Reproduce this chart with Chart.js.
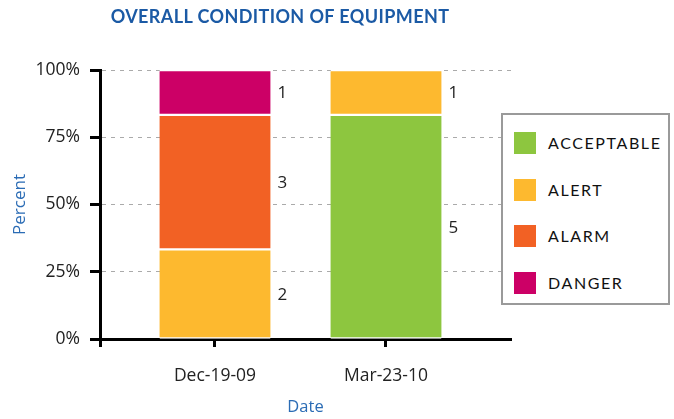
<html>
<head>
<script src="https://cdn.jsdelivr.net/npm/chart.js"></script>
<style>
body { margin:0; background:#fff; }
#wrap { position:relative; width:674px; height:419px; }
#chart-title { position:absolute; left:0; width:560px; top:5px; text-align:center; font-family:Lato, sans-serif; font-weight:700; font-size:18px; letter-spacing:0.4px; color:#1b5aa5; }
#legend { position:absolute; left:501px; top:113px; width:165px; height:188px; border:2px solid #9a9a9a; background:#fff; }
.lg-item { position:absolute; left:11px; height:22px; font-family:Lato, sans-serif; font-size:16px; letter-spacing:1.6px; color:#111; line-height:22px; }
.lg-item span { display:inline-block; width:22px; height:22px; vertical-align:top; margin-right:12px; }
</style>
</head>
<body>
<div id="wrap">
  <canvas id="myChart" width="674" height="419"></canvas>
  <div id="chart-title">OVERALL CONDITION OF EQUIPMENT</div>
  <div id="legend"></div>
</div>

<script>
// survey dates and status categories
const dates = ['Dec-19-09', 'Mar-23-10'];
const statuses = ['ACCEPTABLE', 'ALERT', 'ALARM', 'DANGER'];
const colors = ['#8dc63f', '#fdb92f', '#f26124', '#cc0066'];

// number of machines in each status, per date
const acceptable = [0, 5];
const alert_ = [2, 1];
const alarm = [3, 0];
const danger = [1, 0];
const counts = [acceptable, alert_, alarm, danger];

const yTicks = [0, 25, 50, 75, 100];

const totals = dates.map((d, i) => counts.reduce((s, c) => s + c[i], 0));

const datasets = statuses.map((name, k) => ({
  label: name,
  backgroundColor: colors[k],
  borderColor: '#fff',
  borderWidth: {top: 1.5, bottom: 1.5, left: 0, right: 0},
  borderSkipped: false,
  barThickness: 111,
  counts: counts[k],
  data: dates.map((d, i) => ({x: i + 1, y: counts[k][i] ? counts[k][i] / totals[i] * 100 : null}))
}));

// legend box
let lg = '';
statuses.forEach((name, k) => {
  lg += '<div class="lg-item" style="top:' + (17 + k * 46.7) + 'px"><span style="background:' + colors[k] + '"></span>' + name + '</div>';
});
document.getElementById('legend').innerHTML = lg;

// count labels to the right of each segment
const countLabels = {
  id: 'countLabels',
  afterDatasetsDraw(chart) {
    const ctx = chart.ctx;
    ctx.save();
    ctx.font = '17px "Open Sans"';
    ctx.fillStyle = '#222';
    ctx.textAlign = 'left';
    ctx.textBaseline = 'middle';
    chart.data.datasets.forEach((ds, k) => {
      chart.getDatasetMeta(k).data.forEach((bar, i) => {
        if (!ds.counts[i]) return;
        ctx.fillText(String(ds.counts[i]), bar.x + bar.width / 2 + 7, (bar.y + bar.base) / 2 + 1);
      });
    });
    ctx.restore();
  }
};

const axisFont = {family: '"Open Sans"', size: 17.5};

new Chart(document.getElementById('myChart'), {
  type: 'bar',
  data: {datasets: datasets},
  plugins: [countLabels],
  options: {
    responsive: false,
    animation: false,
    layout: {padding: {top: 70, right: 163, left: 0, bottom: 0}},
    plugins: {legend: {display: false}, title: {display: false}, tooltip: {enabled: false}},
    scales: {
      x: {
        type: 'linear',
        stacked: true,
        offset: false,
        z: 1,
        min: 0.3275,
        max: 2.731,
        afterBuildTicks: s => { s.ticks = [{value: s.min}, {value: 1}, {value: 2}]; },
        afterFit: s => { s.height = 80; },
        ticks: {
          autoSkip: false, maxRotation: 0, padding: 19, color: '#222', font: axisFont,
          callback: (v, i) => ['', ...dates][i]
        },
        grid: {offset: false, drawOnChartArea: false, drawTicks: true, tickColor: '#000', tickWidth: 3, tickLength: 8},
        border: {color: '#000', width: 3},
        title: {display: true, text: 'Date', color: '#2b6cb5', font: {family: '"Open Sans"', size: 16.5}, padding: {top: 0, bottom: 2}}
      },
      y: {
        stacked: true,
        min: 0,
        max: 100,
        afterBuildTicks: s => { s.ticks = yTicks.map(v => ({value: v})); },
        afterFit: s => { s.width = 100; },
        ticks: {padding: 10, color: '#222', font: axisFont, callback: v => v + '%'},
        grid: {color: '#aaa', lineWidth: 1, tickColor: '#000', tickWidth: 3, tickLength: 10, tickBorderDash: []},
        border: {color: '#000', width: 3, dash: [4, 5]},
        title: {display: true, text: 'Percent', color: '#2b6cb5', font: {family: '"Open Sans"', size: 17}, padding: {top: 10, bottom: 0}}
      }
    }
  }
});
</script>
</body>
</html>
